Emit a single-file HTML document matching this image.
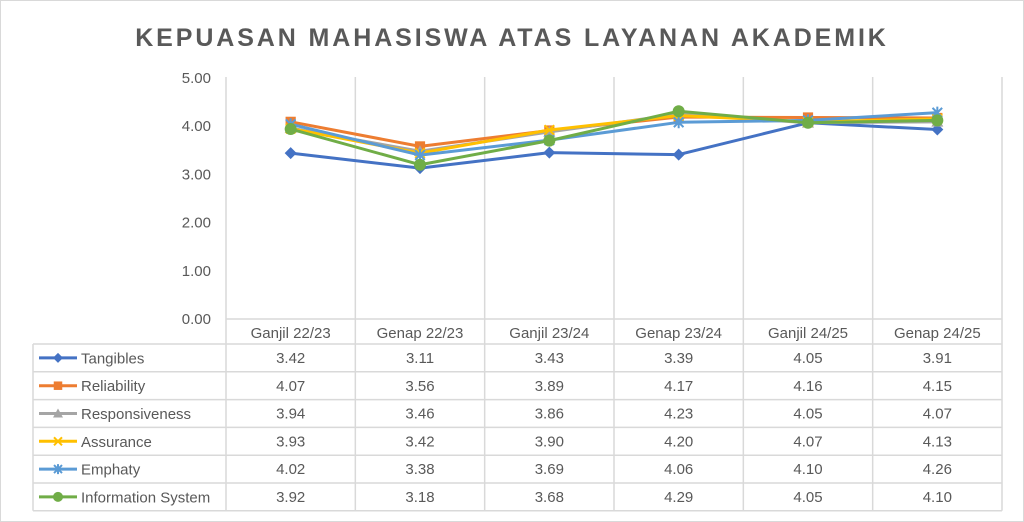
<!DOCTYPE html>
<html><head><meta charset="utf-8"><style>
html,body{margin:0;padding:0;background:#fff;}
svg{display:block;font-family:"Liberation Sans",sans-serif;}
</style></head><body>
<svg id="chart" width="1024" height="522" viewBox="0 0 1024 522">
<rect x="0.5" y="0.5" width="1023" height="521" fill="#fff" stroke="#d9d9d9"/>
<text x="512" y="46" text-anchor="middle" font-size="25" font-weight="bold" fill="#595959" letter-spacing="2.9">KEPUASAN MAHASISWA ATAS LAYANAN AKADEMIK</text>
<g id="grid"></g><g id="yaxis"></g><g id="table"></g><g id="series"></g>
</svg>
<script>
const categories=["Ganjil 22/23","Genap 22/23","Ganjil 23/24","Genap 23/24","Ganjil 24/25","Genap 24/25"];
const seriesNames=["Tangibles","Reliability","Responsiveness","Assurance","Emphaty","Information System"];
const tangibles=[3.42,3.11,3.43,3.39,4.05,3.91];
const reliability=[4.07,3.56,3.89,4.17,4.16,4.15];
const responsiveness=[3.94,3.46,3.86,4.23,4.05,4.07];
const assurance=[3.93,3.42,3.90,4.20,4.07,4.13];
const emphaty=[4.02,3.38,3.69,4.06,4.10,4.26];
const infoSystem=[3.92,3.18,3.68,4.29,4.05,4.10];
const yTicks=[0,1,2,3,4,5];
const allSeries=[tangibles,reliability,responsiveness,assurance,emphaty,infoSystem];
const colors=["#4472c4","#ed7d31","#a5a5a5","#ffc000","#5b9bd5","#70ad47"];
const markers=["diamond","square","triangle","x","star","circle"];
const NS="http://www.w3.org/2000/svg";
const x0=226,colW=(1002-226)/categories.length;
const yTop=77,yBot=318,yMax=5;
const xPos=i=>x0+colW*(i+0.5);
const yPos=v=>yBot-(v/yMax)*(yBot-yTop);
const rowTop=344,rowH=27.8,headTop=319,tableLeft=33,tableBottom=rowTop+rowH*seriesNames.length;
function mk(tag,attrs,parent){const e=document.createElementNS(NS,tag);for(const k in attrs)e.setAttribute(k,attrs[k]);parent.appendChild(e);return e;}
const grid=document.getElementById('grid'),ya=document.getElementById('yaxis'),tb=document.getElementById('table'),sg=document.getElementById('series');
for(let i=0;i<=categories.length;i++){
  const l=mk('line',{x1:x0+colW*i,x2:x0+colW*i,y1:yTop,y2:tableBottom,stroke:'#d9d9d9','stroke-width':1.5},grid);
  
  
}
yTicks.forEach(t=>{
  const tx=mk('text',{x:211,y:yPos(t)+6,'text-anchor':'end','font-size':15,fill:'#595959'},ya);
  tx.textContent=t.toFixed(2);
  
  
});
[headTop].concat(seriesNames.map((_,r)=>rowTop+rowH*r)).concat([tableBottom]).forEach((y,k)=>{
  const l=mk('line',{x1:k===0?x0:tableLeft,x2:1002,y1:y,y2:y,stroke:'#d9d9d9','stroke-width':1.5},tb);
  
  
});
const lv=mk('line',{x1:tableLeft,x2:tableLeft,y1:rowTop,y2:tableBottom,stroke:'#d9d9d9','stroke-width':1.5},tb);


categories.forEach((c,i)=>{
  const t=mk('text',{x:xPos(i),y:headTop+19,'text-anchor':'middle','font-size':15,fill:'#595959'},tb);
  t.textContent=c;
  
  
});
function marker(type,cx,cy,color,parent,s){
  let e;
  if(type==='diamond')e=mk('polygon',{points:`${cx},${cy-s} ${cx+s},${cy} ${cx},${cy+s} ${cx-s},${cy}`,fill:color},parent);
  else if(type==='square')e=mk('rect',{x:cx-s*0.85,y:cy-s*0.85,width:s*1.7,height:s*1.7,fill:color},parent);
  else if(type==='triangle')e=mk('polygon',{points:`${cx},${cy-s} ${cx+s},${cy+s*0.8} ${cx-s},${cy+s*0.8}`,fill:color},parent);
  else if(type==='x')e=mk('path',{d:`M${cx-s*0.8},${cy-s*0.8}L${cx+s*0.8},${cy+s*0.8}M${cx-s*0.8},${cy+s*0.8}L${cx+s*0.8},${cy-s*0.8}`,stroke:color,'stroke-width':2},parent);
  else if(type==='star')e=mk('path',{d:`M${cx-s*0.8},${cy-s*0.8}L${cx+s*0.8},${cy+s*0.8}M${cx-s*0.8},${cy+s*0.8}L${cx+s*0.8},${cy-s*0.8}M${cx},${cy-s}L${cx},${cy+s}`,stroke:color,'stroke-width':2},parent);
  else e=mk('circle',{cx:cx,cy:cy,r:s,fill:color},parent);
  return e;
}
allSeries.forEach((vals,s)=>{
  const g=mk('g',{},sg);
  
  
  const p=mk('polyline',{points:vals.map((v,i)=>xPos(i)+','+yPos(v)).join(' '),fill:'none',stroke:colors[s],'stroke-width':3,'stroke-linejoin':'round'},g);
  
  
  vals.forEach((v,i)=>{
    const m=marker(markers[s],xPos(i),yPos(v),colors[s],g,6);
    
    
    const t=mk('text',{x:xPos(i),y:rowTop+rowH*s+19,'text-anchor':'middle','font-size':15,fill:'#595959'},tb);
    t.textContent=v.toFixed(2);
    
    
  });
  const cy=rowTop+rowH*s+rowH/2;
  const lg=mk('g',{},tb);
  
  
  mk('line',{x1:39,x2:77,y1:cy,y2:cy,stroke:colors[s],'stroke-width':3},lg);
  marker(markers[s],58,cy,colors[s],lg,5);
  const lt=mk('text',{x:81,y:cy+5.5,'font-size':15,fill:'#595959'},lg);
  lt.textContent=seriesNames[s];
});
</script>
</body></html>
